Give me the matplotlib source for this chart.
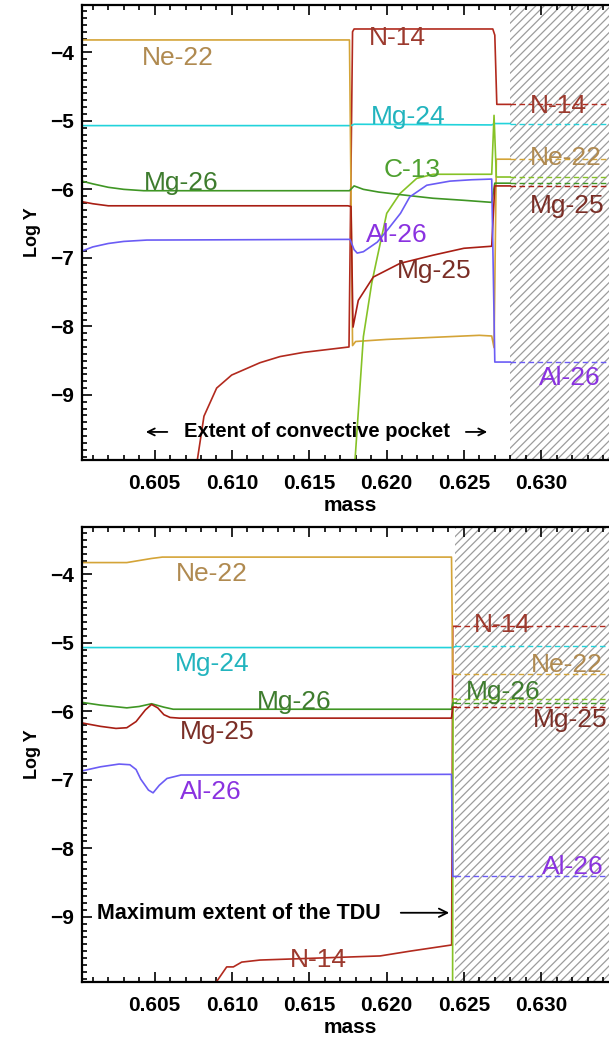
import matplotlib
matplotlib.use("Agg")
import matplotlib.pyplot as plt
from matplotlib.ticker import MultipleLocator, FixedLocator, FormatStrFormatter

plt.rcParams["font.family"] = ["Liberation Sans", "DejaVu Sans"]
plt.rcParams["hatch.linewidth"] = 0.9
plt.rcParams["axes.linewidth"] = 1.6

XMIN, XMAX = 0.6003, 0.6350
YMIN, YMAX = -9.95, -3.31
x_ticks = [0.605, 0.610, 0.615, 0.620, 0.625, 0.630]
y_ticks = [-9, -8, -7, -6, -5, -4]

species = ["N-14", "Mg-24", "Ne-22", "C-13", "Mg-26", "Mg-25", "Al-26"]
line_colors = ["#b22a1e", "#22d3db", "#d4a437", "#86c226", "#3f9624", "#a81e14", "#6b5cf5"]
label_colors = ["#9c3a2e", "#22b4be", "#b08a50", "#4ea030", "#3e7c2e", "#7a2e26", "#8a32e0"]
hatch_color = "#9c9c9c"

# ---- upper panel: convective pocket ----
top_hatch = 0.6280
top_n14_x = [0.60776, 0.60819, 0.60901, 0.60998, 0.61181, 0.61311, 0.61460, 0.61757, 0.6178, 0.6179,
             0.62687, 0.6270, 0.62713, 0.6280]
top_n14_y = [-9.95, -9.31, -8.90, -8.71, -8.53, -8.44, -8.38, -8.30, -3.70, -3.66,
             -3.66, -3.75, -4.76, -4.76]
top_mg24_x = [0.6003, 0.6177, 0.6179, 0.6268, 0.6270, 0.6280]
top_mg24_y = [-5.07, -5.07, -5.05, -5.06, -5.04, -5.04]
top_ne22_x = [0.6003, 0.6176, 0.6178, 0.6180, 0.6200, 0.6230, 0.6260, 0.6268, 0.62695, 0.6271, 0.6280]
top_ne22_y = [-3.82, -3.82, -8.28, -8.22, -8.19, -8.16, -8.13, -8.14, -8.31, -5.56, -5.56]
top_c13_x = [0.61796, 0.61850, 0.61904, 0.61936, 0.62001, 0.62087, 0.62195, 0.62302, 0.6268,
             0.62695, 0.6271, 0.6280]
top_c13_y = [-9.95, -8.15, -7.37, -7.03, -6.35, -6.06, -5.84, -5.78, -5.78,
             -4.92, -5.82, -5.82]
top_mg26_x = [0.6003, 0.6010, 0.6020, 0.6030, 0.6043, 0.6176, 0.6179, 0.6185, 0.6195, 0.6210,
              0.6230, 0.6250, 0.6268, 0.6270, 0.6280]
top_mg26_y = [-5.88, -5.92, -5.97, -6.00, -6.02, -6.02, -5.95, -6.00, -6.04, -6.08,
              -6.13, -6.16, -6.19, -5.91, -5.91]
top_mg25_x = [0.6003, 0.6010, 0.6020, 0.6175, 0.6177, 0.61783, 0.61817, 0.61914, 0.62087, 0.62302,
              0.6250, 0.6268, 0.6270, 0.6280]
top_mg25_y = [-6.18, -6.21, -6.24, -6.24, -6.25, -8.01, -7.62, -7.28, -7.08, -6.96,
              -6.86, -6.83, -5.95, -5.95]
top_al26_x = [0.6003, 0.6010, 0.6020, 0.6030, 0.6045, 0.61764, 0.6179, 0.6181, 0.6185, 0.6194,
              0.6201, 0.6209, 0.6215, 0.6226, 0.6241, 0.6255, 0.6268, 0.6270, 0.6280]
top_al26_y = [-6.90, -6.84, -6.79, -6.76, -6.74, -6.73, -6.88, -6.93, -6.91, -6.77,
              -6.58, -6.35, -6.11, -5.94, -5.88, -5.86, -5.85, -8.52, -8.52]
top_envelope = [-4.76, -5.04, -5.56, -5.82, -5.91, -5.95, -8.52]

top_label_text = ["Ne-22", "N-14", "N-14", "Mg-24", "Ne-22", "C-13", "Mg-26", "Mg-25", "Al-26", "Mg-25", "Al-26"]
top_label_species = ["Ne-22", "N-14", "N-14", "Mg-24", "Ne-22", "C-13", "Mg-26", "Mg-25", "Al-26", "Mg-25", "Al-26"]
top_label_x = [0.60651, 0.62068, 0.63110, 0.62140, 0.63161, 0.62165, 0.60670, 0.63167, 0.62068, 0.62307, 0.63186]
top_label_y = [-4.19, -3.90, -4.89, -5.04, -5.65, -5.82, -6.01, -6.35, -6.77, -7.29, -8.85]

# ---- lower panel: after the third dredge-up ----
bot_hatch = 0.62443
bot_n14_x = [0.60905, 0.60966, 0.61009, 0.61063, 0.61181, 0.61958, 0.62152, 0.62421, 0.62428, 0.6245]
bot_n14_y = [-9.93, -9.73, -9.73, -9.66, -9.63, -9.57, -9.50, -9.41, -4.76, -4.76]
bot_mg24_x = [0.6003, 0.6243, 0.6245]
bot_mg24_y = [-5.07, -5.07, -5.05]
bot_ne22_x = [0.6003, 0.6032, 0.6040, 0.6048, 0.6055, 0.6242, 0.62428, 0.6245]
bot_ne22_y = [-3.83, -3.83, -3.80, -3.77, -3.75, -3.75, -5.46, -5.46]
bot_c13_x = [0.62427, 0.62430, 0.6245]
bot_c13_y = [-9.95, -5.82, -5.82]
bot_mg26_x = [0.6003, 0.6015, 0.6032, 0.6040, 0.6048, 0.6056, 0.6062, 0.6242, 0.62428, 0.6245]
bot_mg26_y = [-5.87, -5.91, -5.95, -5.93, -5.89, -5.94, -5.97, -5.97, -5.88, -5.88]
bot_mg25_x = [0.6003, 0.6015, 0.6025, 0.6032, 0.6038, 0.6044, 0.6048, 0.6052, 0.6056, 0.6060,
              0.6066, 0.6242, 0.62428, 0.6245]
bot_mg25_y = [-6.17, -6.22, -6.25, -6.24, -6.15, -5.98, -5.90, -5.95, -6.05, -6.09,
              -6.10, -6.10, -5.94, -5.94]
bot_al26_x = [0.6003, 0.6015, 0.6027, 0.6034, 0.6038, 0.6041, 0.6046, 0.6049, 0.6053, 0.6058,
              0.6067, 0.6242, 0.62428, 0.6245]
bot_al26_y = [-6.87, -6.81, -6.77, -6.78, -6.85, -6.99, -7.15, -7.19, -7.08, -6.98,
              -6.93, -6.92, -8.41, -8.41]
bot_envelope = [-4.76, -5.05, -5.46, -5.82, -5.88, -5.94, -8.41]

bot_label_text = ["Ne-22", "Mg-24", "Mg-26", "Mg-25", "Al-26", "N-14", "N-14", "Ne-22", "Mg-26", "Mg-25", "Al-26"]
bot_label_species = ["Ne-22", "Mg-24", "Mg-26", "Mg-25", "Al-26", "N-14", "N-14", "Ne-22", "Mg-26", "Mg-25", "Al-26"]
bot_label_x = [0.60871, 0.60871, 0.61401, 0.60903, 0.60864, 0.61557, 0.62747, 0.63167, 0.62753, 0.63186, 0.63205]
bot_label_y = [-4.10, -5.41, -5.97, -6.41, -7.28, -9.73, -4.85, -5.43, -5.82, -6.23, -8.37]


def draw_panel(ax, series, envelope, hatch_start, lab_text, lab_species, lab_x, lab_y):
    ax.axvspan(hatch_start, XMAX + 0.01, facecolor="none", edgecolor=hatch_color,
               hatch="////", linewidth=0, zorder=0.5)
    for i, name in enumerate(species):
        xs, ys = series[name]
        ax.plot(xs, ys, color=line_colors[i], lw=1.2, zorder=2, solid_joinstyle="round")
        ax.plot([hatch_start, XMAX], [envelope[i], envelope[i]], color=line_colors[i],
                lw=1.0, ls=(0, (4, 2.5)), zorder=2)
    for t, s, x, y in zip(lab_text, lab_species, lab_x, lab_y):
        ax.text(x, y, t, color=label_colors[species.index(s)], fontsize=19,
                ha="center", va="baseline", zorder=3)

    ax.set_xlim(XMIN, XMAX)
    ax.set_ylim(YMIN, YMAX)
    ax.xaxis.set_major_locator(FixedLocator(x_ticks))
    ax.xaxis.set_major_formatter(FormatStrFormatter("%.3f"))
    ax.xaxis.set_minor_locator(MultipleLocator(0.001))
    ax.yaxis.set_major_locator(FixedLocator(y_ticks))
    ax.yaxis.set_minor_locator(MultipleLocator(0.1))
    ax.tick_params(which="both", direction="in", top=True, right=True, width=1.2)
    ax.tick_params(which="major", length=7.5)
    ax.tick_params(which="minor", length=3.6)
    ax.tick_params(axis="x", which="major", pad=10)
    ax.tick_params(axis="y", which="major", pad=6)
    for lab in ax.get_xticklabels() + ax.get_yticklabels():
        lab.set_fontsize(15)
        lab.set_fontweight("bold")
    ax.set_xlabel("mass", fontsize=15, fontweight="bold", labelpad=2)
    ax.set_ylabel("Log Y", fontsize=13, fontweight="bold", labelpad=6)


fig = plt.figure(figsize=(6.09, 10.42), dpi=100)
ax_top = fig.add_axes([0.1346, 0.5585, 0.8810, 0.4367])
ax_bot = fig.add_axes([0.1346, 0.0576, 0.8810, 0.4367])

top_series = {
    "N-14": (top_n14_x, top_n14_y), "Mg-24": (top_mg24_x, top_mg24_y),
    "Ne-22": (top_ne22_x, top_ne22_y), "C-13": (top_c13_x, top_c13_y),
    "Mg-26": (top_mg26_x, top_mg26_y), "Mg-25": (top_mg25_x, top_mg25_y),
    "Al-26": (top_al26_x, top_al26_y),
}
bot_series = {
    "N-14": (bot_n14_x, bot_n14_y), "Mg-24": (bot_mg24_x, bot_mg24_y),
    "Ne-22": (bot_ne22_x, bot_ne22_y), "C-13": (bot_c13_x, bot_c13_y),
    "Mg-26": (bot_mg26_x, bot_mg26_y), "Mg-25": (bot_mg25_x, bot_mg25_y),
    "Al-26": (bot_al26_x, bot_al26_y),
}

draw_panel(ax_top, top_series, top_envelope, top_hatch,
           top_label_text, top_label_species, top_label_x, top_label_y)
draw_panel(ax_bot, bot_series, bot_envelope, bot_hatch,
           bot_label_text, bot_label_species, bot_label_x, bot_label_y)

# annotations
ax_top.text(0.6155, -9.61, "Extent of convective pocket", fontsize=14.5, fontweight="bold",
            ha="center", va="baseline", zorder=3)
ax_top.annotate("", xy=(0.60425, -9.54), xytext=(0.60600, -9.54),
                arrowprops=dict(arrowstyle="->,head_length=0.5,head_width=0.25", lw=1.3, color="black"))
ax_top.annotate("", xy=(0.62669, -9.54), xytext=(0.62495, -9.54),
                arrowprops=dict(arrowstyle="->,head_length=0.5,head_width=0.25", lw=1.3, color="black"))

ax_bot.text(0.60127, -9.03, "Maximum extent of the TDU", fontsize=15.5, fontweight="bold",
            ha="left", va="baseline", zorder=3)
ax_bot.annotate("", xy=(0.62423, -8.94), xytext=(0.62074, -8.94),
                arrowprops=dict(arrowstyle="->,head_length=0.6,head_width=0.3", lw=1.3, color="black"))

fig.savefig("out.png", dpi=100)
